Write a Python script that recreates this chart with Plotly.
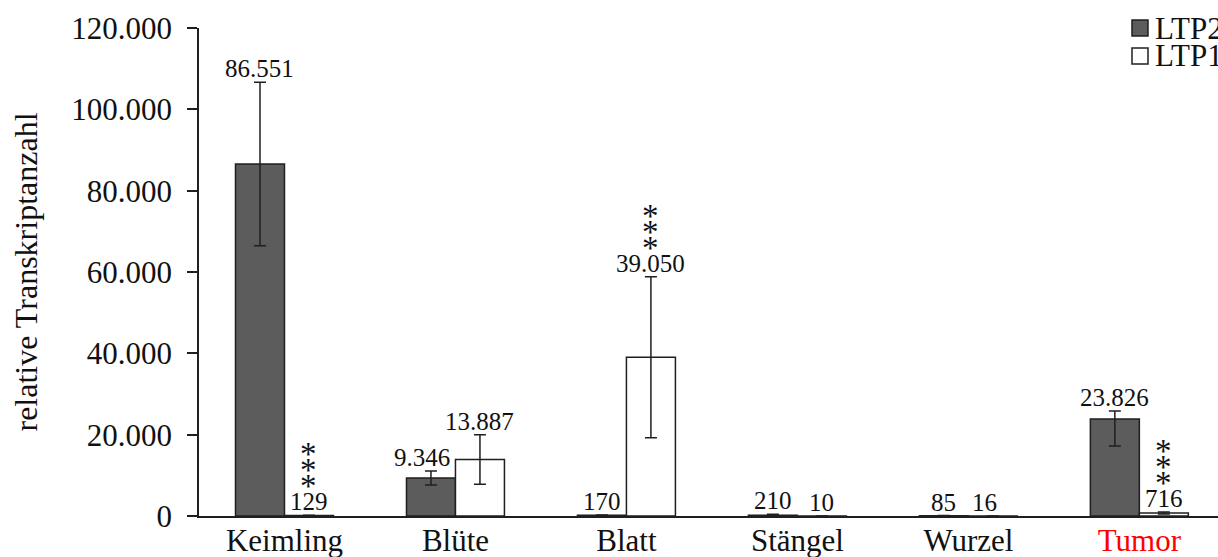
import plotly.graph_objects as go

# Gewebe (Kategorien) und Achsenbeschriftungen
categories = ["Keimling", "Blüte", "Blatt", "Stängel", "Wurzel", "Tumor"]
category_labels = ["Keimling", "Blüte", "Blatt", "Stängel", "Wurzel",
                   '<span style="color:#ff0000">Tumor</span>']

# Relative Transkriptanzahl je Gewebe
ltp2 = [86551, 9346, 170, 210, 85, 23826]
ltp2_err_plus = [20100, 1700, 60, 250, 30, 2000]
ltp2_err_minus = [20100, 1700, 60, 250, 30, 6600]

ltp1 = [129, 13887, 39050, 10, 16, 716]
ltp1_err = [40, 6100, 19800, 5, 8, 250]

# Signifikanzniveau LTP1 gegenüber LTP2
ltp1_signif = ["***", "", "***", "", "", "***"]

y_ticks = [0, 20000, 40000, 60000, 80000, 100000, 120000]

SERIF = "Liberation Serif"
DARK = "#5c5c5c"
LINE = "#1f1f1f"
TEXT = "#111111"
BAR_PX = 49  # Balkenbreite in Pixeln


def de_format(v):
    return f"{v:,}".replace(",", ".")


fig = go.Figure()
fig.add_trace(go.Bar(
    name="LTP2", x=categories, y=ltp2,
    marker=dict(color=DARK, line=dict(color=LINE, width=1.5)),
    error_y=dict(type="data", symmetric=False, array=ltp2_err_plus,
                 arrayminus=ltp2_err_minus, color=LINE, thickness=1.5, width=6),
))
fig.add_trace(go.Bar(
    name="LTP1", x=categories, y=ltp1,
    marker=dict(color="white", line=dict(color=LINE, width=1.5)),
    error_y=dict(type="data", array=ltp1_err, color=LINE, thickness=1.5, width=6),
))

annotations = []
label_nudge = {("LTP2", "Blüte"): -9, ("LTP1", "Wurzel"): -8}
for name, vals, tops, side in (("LTP2", ltp2, ltp2_err_plus, -1),
                               ("LTP1", ltp1, ltp1_err, 1)):
    for i, cat in enumerate(categories):
        top = vals[i] + tops[i]
        dx = side * BAR_PX / 2 + label_nudge.get((name, cat), 0)
        annotations.append(dict(
            x=cat, y=top, xref="x", yref="y", text=de_format(vals[i]),
            showarrow=False, yanchor="bottom", xanchor="center",
            xshift=dx, yshift=-2,
            font=dict(family=SERIF, size=25, color=TEXT),
        ))
        if name == "LTP1" and ltp1_signif[i]:
            # Sternchen eng übereinander gestapelt
            for k, _ in enumerate(ltp1_signif[i]):
                annotations.append(dict(
                    x=cat, y=top, xref="x", yref="y", text="*",
                    showarrow=False, yanchor="bottom", xanchor="center",
                    xshift=dx, yshift=9 + 16 * k,
                    font=dict(family=SERIF, size=33, color=TEXT),
                ))

# Legende oben rechts
legend_items = [("LTP2", DARK), ("LTP1", "white")]
shapes = []
PLOT_H = 488
for k, (name, color) in enumerate(legend_items):
    y_c = 1 - (28 * k) / PLOT_H
    half = 8 / PLOT_H
    shapes.append(dict(type="rect", xref="paper", yref="paper",
                       x0=0.9156, x1=0.9313, y0=y_c - half, y1=y_c + half,
                       fillcolor=color, line=dict(color=LINE, width=1.5)))
    annotations.append(dict(
        x=0.9362, y=y_c, xref="paper", yref="paper", text=name,
        showarrow=False, xanchor="left", yanchor="middle",
        font=dict(family=SERIF, size=31, color=TEXT),
    ))

fig.update_layout(
    width=1218, height=557,
    margin=dict(l=199, r=0, t=28, b=41, autoexpand=False),
    paper_bgcolor="white", plot_bgcolor="white",
    separators=",.",
    barmode="group", bargap=0.427, bargroupgap=0,
    showlegend=False,
    font=dict(family=SERIF, size=30, color=TEXT),
    xaxis=dict(
        type="category", range=[-0.5, 5.46], automargin=False,
        tickvals=categories, ticktext=category_labels,
        showline=True, linecolor=LINE, linewidth=1.5,
        ticks="", showgrid=False, zeroline=False,
        ticklabelstandoff=-4,
        tickfont=dict(family=SERIF, size=31, color=TEXT),
    ),
    yaxis=dict(
        range=[0, 120000], tickvals=y_ticks, tickformat=",d", automargin=False,
        showline=True, linecolor=LINE, linewidth=1.5,
        ticks="outside", ticklen=10, tickwidth=1.5, tickcolor=LINE,
        ticklabelstandoff=9,
        showgrid=False, zeroline=False,
        tickfont=dict(family=SERIF, size=31, color=TEXT),
        title=dict(text="relative Transkriptanzahl", standoff=24,
                   font=dict(family=SERIF, size=32, color=TEXT)),
    ),
    annotations=annotations,
    shapes=shapes,
)

fig.write_html("out.html")
